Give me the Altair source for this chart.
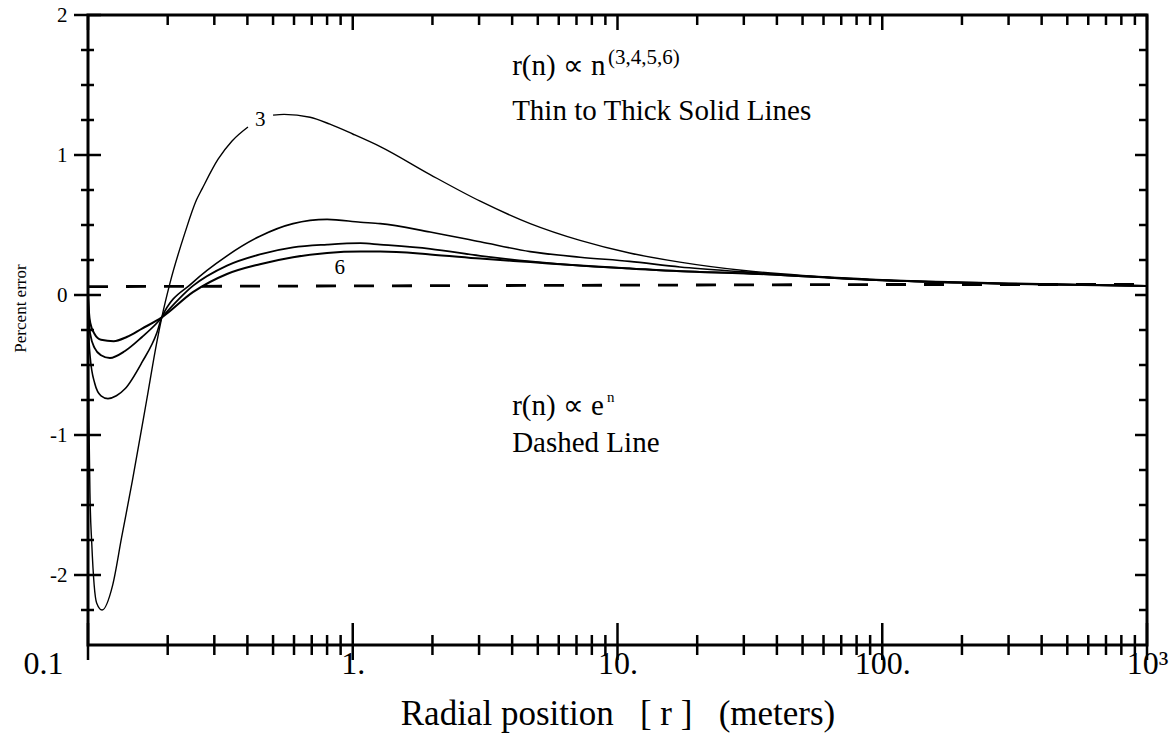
import altair as alt
import pandas as pd

# ---------------- data ----------------
# n = 3 (thinnest), split where the curve label "3" interrupts it
r3_a = [0.1, 0.1008, 0.1018, 0.1033, 0.1078, 0.113, 0.124, 0.134, 0.147, 0.1666, 0.1818, 0.19,
        0.204, 0.232, 0.257, 0.27, 0.31, 0.35, 0.402]
e3_a = [0.0, -0.9, -1.45, -1.77, -2.2, -2.25, -2.07, -1.73, -1.33, -0.75, -0.34, -0.16,
        0.085, 0.44, 0.68, 0.76, 0.97, 1.10, 1.20]
r3_b = [0.50, 0.55, 0.69, 0.82, 1.0, 1.27, 1.96, 3.03, 4.68, 7.22, 11.1, 17.2, 30, 50, 100, 300, 1000]
e3_b = [1.285, 1.29, 1.27, 1.22, 1.15, 1.06, 0.86, 0.67, 0.51, 0.39, 0.30, 0.235, 0.175, 0.14,
        0.11, 0.085, 0.065]

r4 = [0.1, 0.1008, 0.102, 0.106, 0.112, 0.119, 0.128, 0.138, 0.16, 0.182, 0.19, 0.249, 0.335,
      0.446, 0.595, 0.80, 1.07, 1.27, 1.96, 3.03, 4.68, 7.22, 11.1, 17.2, 30, 100, 300, 1000]
e4 = [0.0, -0.30, -0.45, -0.63, -0.72, -0.74, -0.72, -0.67, -0.48, -0.27, -0.16, 0.09, 0.28,
      0.42, 0.51, 0.54, 0.52, 0.51, 0.45, 0.38, 0.31, 0.27, 0.24, 0.20, 0.165, 0.105, 0.08, 0.065]

r5 = [0.1, 0.1008, 0.102, 0.106, 0.112, 0.121, 0.138, 0.16, 0.182, 0.19, 0.249, 0.335, 0.446,
      0.595, 0.80, 1.07, 1.27, 1.96, 3.03, 4.68, 7.22, 11.1, 17.2, 30, 100, 300, 1000]
e5 = [0.0, -0.18, -0.28, -0.38, -0.43, -0.45, -0.40, -0.30, -0.20, -0.16, 0.065, 0.21, 0.29,
      0.34, 0.36, 0.37, 0.36, 0.33, 0.28, 0.24, 0.21, 0.19, 0.17, 0.155, 0.105, 0.08, 0.065]

r6 = [0.1, 0.1008, 0.102, 0.106, 0.112, 0.125, 0.14, 0.16, 0.19, 0.249, 0.335, 0.446, 0.595,
      0.80, 1.07, 1.27, 1.96, 3.03, 4.68, 7.22, 11.1, 17.2, 30, 100, 300, 1000]
e6 = [0.0, -0.12, -0.20, -0.28, -0.32, -0.33, -0.30, -0.24, -0.16, 0.02, 0.15, 0.22, 0.27,
      0.30, 0.31, 0.31, 0.29, 0.26, 0.235, 0.21, 0.19, 0.17, 0.155, 0.105, 0.08, 0.065]

# exponential grid (dashed)
r_exp = [0.1, 1, 10, 100, 1000]
e_exp = [0.06, 0.065, 0.07, 0.075, 0.075]

# axes
x_major = [0.1, 1, 10, 100, 1000]
x_labels = ["0.1", "1.", "10.", "100.", "10³"]
x_minor = [m * d for d in [0.1, 1, 10, 100] for m in range(2, 10)]
y_major = [-2, -1, 0, 1, 2]
y_minor = [-2.25, -1.75, -1.5, -1.25, -0.75, -0.5, -0.25, 0.25, 0.5, 0.75, 1.25, 1.5, 1.75]

# annotations
ann_big_text = ["r(n) \u221d n", "Thin to Thick Solid Lines", "r(n) \u221d e", "Dashed Line"]
ann_big_r = [4.0, 4.0, 4.0, 4.0]
ann_big_e = [1.57, 1.25, -0.857, -1.121]
ann_sup_text = ["(3,4,5,6)", "n"]
ann_sup_r = [9.2, 9.13]
ann_sup_e = [1.65, -0.764]
ann_sup_size = [21, 15]
curve_lab_text = ["3", "6"]
curve_lab_r = [0.447, 0.893]
curve_lab_e = [1.25, 0.193]

# ---------------- build tables ----------------
rows = []
for r, e in zip(r3_a, e3_a):
    rows.append({"r": r, "e": e, "n": 3, "seg": "3a"})
for r, e in zip(r3_b, e3_b):
    rows.append({"r": r, "e": e, "n": 3, "seg": "3b"})
for n, rr, ee in [(4, r4, e4), (5, r5, e5), (6, r6, e6)]:
    for r, e in zip(rr, ee):
        rows.append({"r": r, "e": e, "n": n, "seg": str(n)})
curves = pd.DataFrame(rows)
dashed = pd.DataFrame({"r": r_exp, "e": e_exp})

W, H = 1059, 630
FONT = "Liberation Serif"

label_expr = "".join(
    f"abs(datum.value - {v}) < {v * 0.01} ? '{t}' : " for v, t in zip(x_major, x_labels)
) + "''"

xscale = alt.Scale(type="log", domain=[0.1, 1000], nice=False)
yscale = alt.Scale(domain=[-2.5, 2], nice=False, zero=False)

NB = "\u00a0"
xaxis = alt.Axis(
    values=x_major, labelExpr=label_expr, ticks=False, domain=False, grid=False,
    labelFont=FONT, labelFontSize=32, labelColor="black", labelPadding=3,
    labelOffset={"condition": {"test": "datum.value < 0.5", "value": -45}, "value": 0},
    labelFlush=False,
    title=f"Radial position{NB*3}[ r ]{NB*3}(meters)", titleFont=FONT,
    titleFontSize=35, titleFontWeight="normal", titleColor="black",
    titleBaseline="middle", titleY=68,
)
yaxis = alt.Axis(
    values=y_major, ticks=False, domain=False, grid=False,
    labelExpr="datum.value < 0 ? '-' + abs(datum.value) : '' + datum.value",
    labelFont=FONT, labelFontSize=21, labelColor="black", labelPadding=21,
    title="Percent error", titleFont=FONT, titleFontSize=17, titleFontWeight="normal",
    titleColor="black", titleAngle=-90, titleX=-68, titleY=293,
    titleAlign="center", titleBaseline="middle",
)


def X(field="r"):
    return alt.X(f"{field}:Q", scale=xscale, axis=xaxis)


def Y(field="e"):
    return alt.Y(f"{field}:Q", scale=yscale, axis=yaxis)


lines = alt.Chart(curves).mark_line(color="black", interpolate="monotone", clip=True).encode(
    x=X(), y=Y(), detail="seg:N",
    strokeWidth=alt.StrokeWidth("n:O", scale=alt.Scale(domain=[3, 4, 5, 6], range=[1.4, 2.0, 3.0, 4.0]),
                                legend=None),
)

dash = alt.Chart(dashed).mark_line(color="black", strokeWidth=2.8, strokeDash=[20, 18]).encode(
    x=X(), y=Y()
)

# tick marks drawn as rules
xmin_df = pd.DataFrame({"r": x_minor})
xmaj_df = pd.DataFrame({"r": x_major})
ymin_df = pd.DataFrame({"e": y_minor})
ymaj_df = pd.DataFrame({"e": y_major})

tick = dict(color="black", strokeWidth=2.5)
ticks = [
    alt.Chart(xmin_df).mark_rule(**tick).encode(x=X(), y=alt.value(H - 10), y2=alt.value(H + 10)),
    alt.Chart(xmaj_df).mark_rule(**tick).encode(x=X(), y=alt.value(H - 22), y2=alt.value(H + 15)),
    alt.Chart(xmin_df).mark_rule(**tick).encode(x=X(), y=alt.value(0), y2=alt.value(10)),
    alt.Chart(xmaj_df).mark_rule(**tick).encode(x=X(), y=alt.value(0), y2=alt.value(15)),
    alt.Chart(ymin_df).mark_rule(**tick).encode(y=Y(), x=alt.value(-7), x2=alt.value(6)),
    alt.Chart(ymaj_df).mark_rule(**tick).encode(y=Y(), x=alt.value(-14), x2=alt.value(13)),
    alt.Chart(ymin_df).mark_rule(**tick).encode(y=Y(), x=alt.value(W - 8), x2=alt.value(W)),
    alt.Chart(ymaj_df).mark_rule(**tick).encode(y=Y(), x=alt.value(W - 12), x2=alt.value(W)),
]

big = alt.Chart(pd.DataFrame({"r": ann_big_r, "e": ann_big_e, "t": ann_big_text})).mark_text(
    font=FONT, fontSize=29, align="left", baseline="alphabetic", color="black"
).encode(x=X(), y=Y(), text="t:N")

sup = alt.Chart(pd.DataFrame({"r": ann_sup_r, "e": ann_sup_e, "t": ann_sup_text, "s": ann_sup_size})).mark_text(
    font=FONT, align="left", baseline="alphabetic", color="black"
).encode(x=X(), y=Y(), text="t:N", size=alt.Size("s:Q", scale=None, legend=None))

clab = alt.Chart(pd.DataFrame({"r": curve_lab_r, "e": curve_lab_e, "t": curve_lab_text})).mark_text(
    font=FONT, fontSize=21, align="center", baseline="middle", color="black"
).encode(x=X(), y=Y(), text="t:N")

chart = alt.layer(lines, dash, *ticks, big, sup, clab).properties(
    width=W, height=H,
    autosize=alt.AutoSizeParams(type="none"),
    padding={"left": 88, "top": 15, "right": 28, "bottom": 89},
    background="white",
).configure_view(stroke="black", strokeWidth=3)

chart.save("out.html", embed_options={"renderer": "svg", "actions": False})
